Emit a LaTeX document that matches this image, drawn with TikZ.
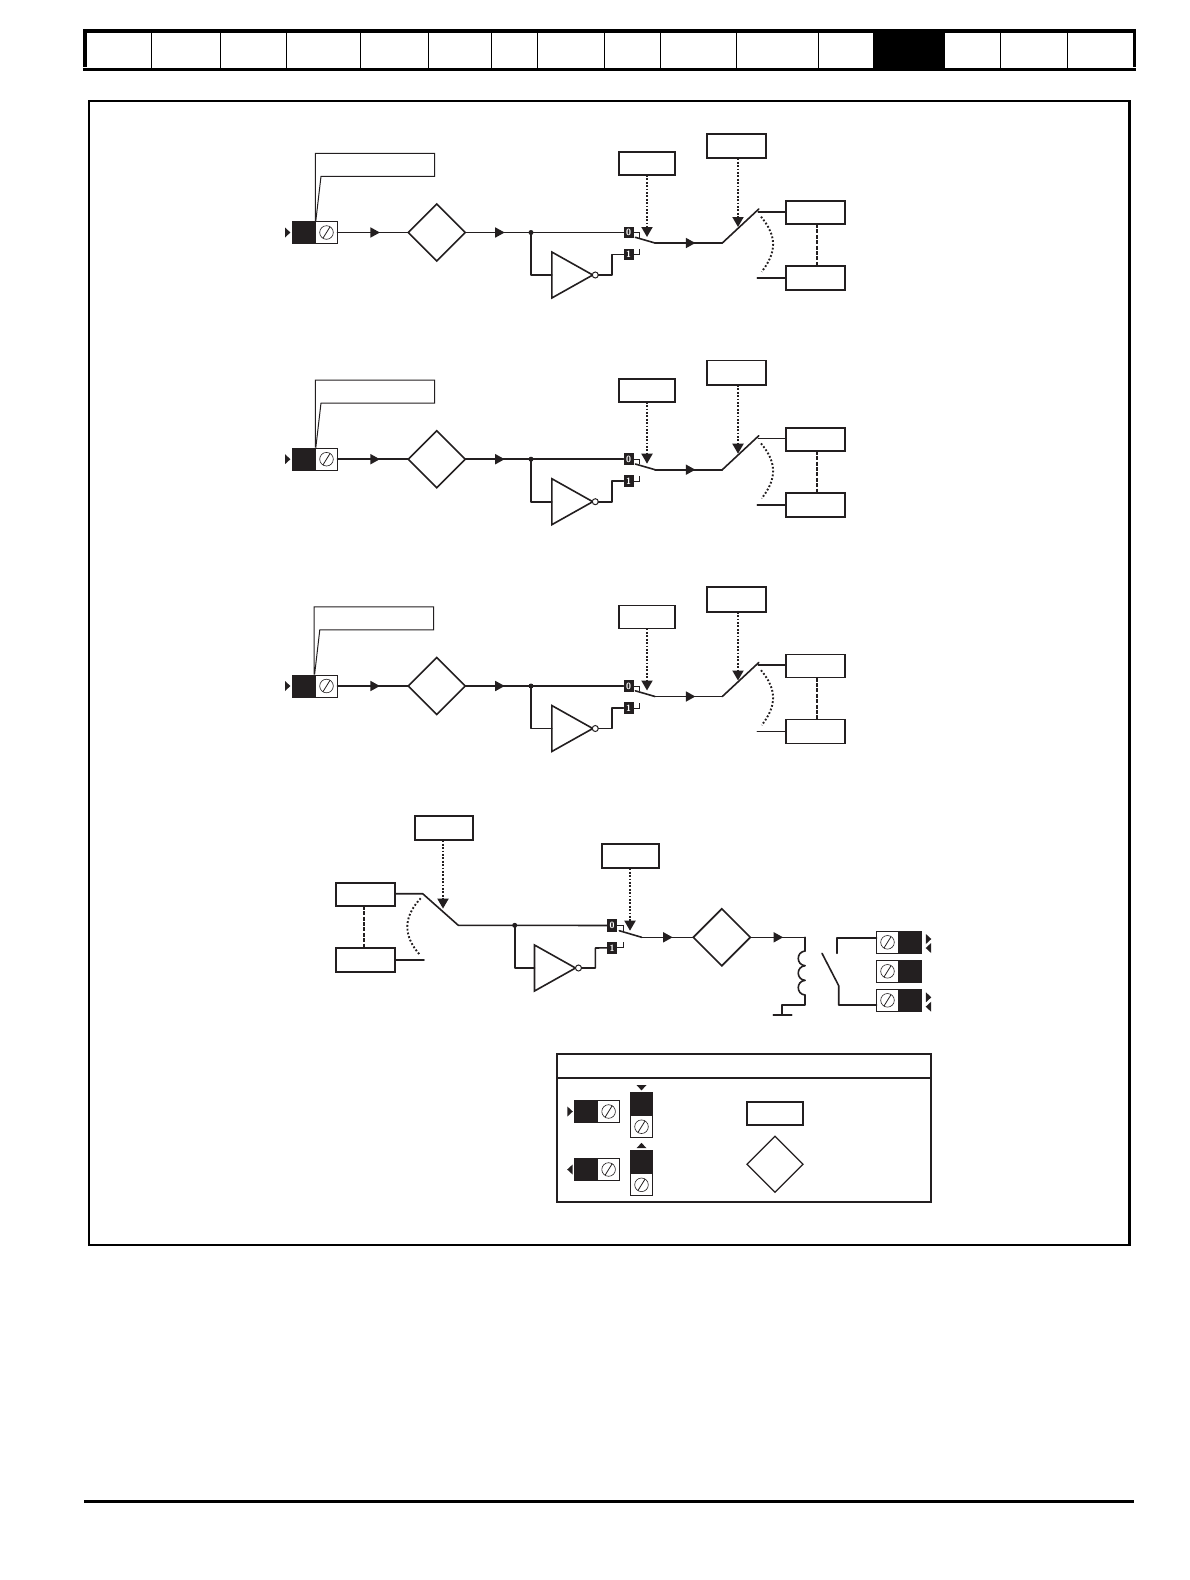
\documentclass[tikz,border=0pt]{standalone}
\usetikzlibrary{arrows.meta,decorations.markings,shapes.geometric}
\definecolor{ink}{HTML}{231F20}
\tikzset{
  every node/.style={inner sep=0pt,outer sep=0pt},
  wire/.style={draw=ink,line width=1.6pt,line cap=round,line join=round},
  thinwire/.style={draw=ink,line width=1pt},
  midarr/.style={postaction={decorate},decoration={markings,mark=at position .6 with {\arrow{Triangle[length=9.5pt,width=10pt]}}}},
  dotwire/.style={draw=ink,line width=1.9pt,dash pattern=on 1.8pt off 1.6pt,-{Triangle[length=10pt,width=11pt]},ink},
  dashwire/.style={draw=ink,line width=1.6pt,dash pattern=on 4pt off 1.4pt},
  arcwire/.style={draw=ink,line width=1.9pt,dash pattern=on 1.8pt off 2pt},
  parbox/.style={draw=ink,line width=1.7pt,fill=white,minimum width=58pt,minimum height=23pt},
  logicbox/.style={diamond,aspect=1,draw=ink,line width=1.6pt,fill=white,minimum size=57pt},
  invbody/.style={isosceles triangle,isosceles triangle apex angle=60,isosceles triangle stretches,shape border rotate=0,draw=ink,line width=1.6pt,fill=white,minimum height=41pt,minimum width=46pt},
  invbub/.style={circle,draw=ink,line width=1pt,fill=white,minimum size=6pt},
  blackterm/.style={fill=ink,draw=ink,line width=.8pt,minimum width=22.6pt,minimum height=22pt},
  screwterm/.style={draw=ink,line width=.9pt,fill=white,minimum width=22pt,minimum height=22pt,
    path picture={\draw[ink,line width=.6pt] (path picture bounding box.center) circle (6.8pt);
      \draw[ink,line width=.8pt] ([xshift=-3.6pt,yshift=-5.8pt]path picture bounding box.center) -- ([xshift=3.6pt,yshift=5.8pt]path picture bounding box.center);}},
  selmark/.style={fill=ink,text=white,font=\fontsize{9}{9}\sffamily\bfseries,minimum width=10.4pt,minimum height=11.6pt},
  jdot/.style={circle,fill=ink,minimum size=5pt},
  pagebar/.style={draw=black,line width=3.4pt},
  cellbar/.style={draw=black,line width=1pt}
}
\newcommand{\tipmark}[2]{\fill[ink,shift={#1},rotate=#2] (-2.6,-5) -- (2.8,0) -- (-2.6,5) -- cycle;}
\begin{document}
\begin{tikzpicture}[x=1pt,y=-1pt]
\useasboundingbox (0,0) rectangle (1190,1580);
% page tabs
\fill[black] (873,31) rectangle (945,69);
\foreach \tabx in {151.7,220.3,286.7,360.7,428.7,491.7,537.3,604.3,660.3,736.3,818.3,1000.7,1067.7}
  \draw[cellbar] (\tabx,31) -- (\tabx,69);
\draw[pagebar] (84.8,67) -- (84.8,31) -- (1134.2,31) -- (1134.2,67);
\draw[pagebar] (83,69.2) -- (1136,69.2);
\draw[pagebar] (84,1501.3) -- (1134,1501.3);
% outer frame
\draw[black,line width=2pt] (89,101) -- (1129.7,101);
\draw[black,line width=2pt] (89,100) -- (89,1244.7) -- (1129.7,1244.7);
\draw[black,line width=3pt] (1129.7,100) -- (1129.7,1245.7);
% the three input channels
\foreach \row/\dy/\cx in {a/0/0,b/226.7/0,c/453.5/-1.2}{
\begin{scope}[yshift=-\dy pt]
  \draw[thinwire,xshift=\cx pt] (315.3,221) -- (315.3,153.3) -- (434.7,153.3) -- (434.7,176.3) -- (321,176.3) -- (315.8,221);
  \node[blackterm] (\row term) at (303.6,232.5) {};
  \node[screwterm] (\row screw) at (326.5,232.5) {};
  \tipmark{(287.6,232.5)}{0}
  \node[logicbox] (\row logic) at (436.7,232.5) {};
  \node[jdot] (\row dot) at (531,232.5) {};
  \node[selmark] (\row lab0) at (628.7,232.5) {0};
  \node[selmark] (\row lab1) at (628.7,254.5) {1};
  \node[invbody,anchor=apex] (\row inv) at (592.8,275) {};
  \node[invbub] (\row bub) at (595.3,275) {};
  \coordinate (\row turn) at (611.7,254.5);
  \coordinate (\row hook0) at (639.3,237.6);
  \coordinate (\row hook1) at (639.3,249);
  \coordinate (\row bladeA) at (635.3,237.3);
  \coordinate (\row pivot) at (655,243);
  \coordinate (\row knee) at (722.3,243);
  \coordinate (\row end) at (758.8,209);
  \coordinate (\row wireA) at (758.3,211.7);
  \coordinate (\row stub) at (757.3,277);
  \coordinate (\row tipa) at (647,237);
  \coordinate (\row tipb) at (738,227);
  \coordinate (\row dash) at (817,240);
  \node[parbox,minimum width=56.6pt] (\row sela) at (647,163.5) {};
  \node[parbox,minimum width=59.6pt,minimum height=24.6pt] (\row selb) at (736.5,146) {};
  \node[parbox,minimum width=59.6pt] (\row outa) at (815.5,212.5) {};
  \node[parbox,minimum width=59.6pt,minimum height=24pt] (\row outb) at (815.5,278) {};
  \draw[wire,midarr] (\row screw.east) -- (\row logic.west);
  \draw[wire,midarr] (\row logic.east) -- (\row dot.center);
  \draw[wire] (\row dot.center) -- (\row lab0.west);
  \draw[wire] (\row dot.center) |- (\row inv.west);
  \draw[wire] (\row bub.east) -- (\row turn |- \row bub.east) -- (\row turn) -- (\row lab1.west);
  \draw[thinwire] (\row lab0.east) -| (\row hook0);
  \draw[thinwire] (\row lab1.east) -| (\row hook1);
  \draw[wire] (\row bladeA) -- (\row pivot);
  \draw[wire,midarr] (\row pivot) -- (\row knee);
  \draw[wire] (\row knee) -- (\row end);
  \draw[wire] (\row wireA) -- (\row outa.west |- \row wireA);
  \draw[wire] (\row outb.west -| \row stub) -- (\row outb.west);
  \draw[dotwire] (\row sela.south) -- (\row tipa);
  \draw[dotwire] (\row tipb |- \row selb.south) -- (\row tipb);
  \draw[dashwire] (\row dash |- \row outa.south) -- (\row dash |- \row outb.north);
  \draw[arcwire] (761,216.7) .. controls (777,236) and (777,252) .. (761.7,271.7);
\end{scope}}
% relay output channel
\node[parbox,minimum width=58.6pt,minimum height=24.6pt] (dsela) at (444,828) {};
\node[parbox,minimum width=57.6pt,minimum height=24pt] (dselb) at (630.5,856.3) {};
\node[parbox,minimum width=59.6pt] (douta) at (365.5,894.3) {};
\node[parbox,minimum width=59.6pt,minimum height=24.3pt] (doutb) at (365.5,959.8) {};
\node[jdot] (ddot) at (514.7,925.3) {};
\node[selmark,minimum width=9.4pt,minimum height=12.2pt] (dlab0) at (612,925.5) {0};
\node[selmark,minimum width=9.4pt,minimum height=12.2pt] (dlab1) at (612,947.8) {1};
\node[invbody,anchor=apex] (dinv) at (575.5,968) {};
\node[invbub] (dbub) at (578.5,968) {};
\node[logicbox] (dlogic) at (721.8,937.3) {};
\coordinate (dend) at (422.7,893.7);
\coordinate (dknee) at (458.3,925.3);
\coordinate (dstub) at (424,959.8);
\coordinate (dturn) at (595.3,948);
\coordinate (dhook0) at (623,931);
\coordinate (dhook1) at (623,942);
\coordinate (dbladeA) at (619.3,930.7);
\coordinate (dpivot) at (641.7,937.3);
\coordinate (dtipa) at (443,908.6);
\coordinate (dtipb) at (630,930.7);
\coordinate (coiltop) at (805,937.3);
\coordinate (coilbot) at (805,1005);
\coordinate (gnd) at (781.7,1015);
\draw[wire] (douta.east |- dend) -- (dend) -- (dknee) -- (ddot.center);
\draw[wire] (doutb.east) -- (dstub);
\draw[wire] (ddot.center) -- (dlab0.west);
\draw[wire] (ddot.center) |- (dinv.west);
\draw[wire] (dbub.east) -- (dturn |- dbub.east) -- (dturn) -- (dlab1.west);
\draw[thinwire] (dlab0.east) -| (dhook0);
\draw[thinwire] (dlab1.east) -| (dhook1);
\draw[wire] (dbladeA) -- (dpivot);
\draw[wire,midarr] (dpivot) -- (dlogic.west);
\draw[wire,midarr] (dlogic.east) -- (coiltop);
\draw[dotwire] (dsela.south -| dtipa) -- (dtipa);
\draw[dotwire] (dselb.south -| dtipb) -- (dtipb);
\draw[dashwire] ([xshift=-1.5pt]douta.south) -- ([xshift=-1.5pt]doutb.north);
\draw[arcwire] (420.7,898.3) .. controls (403,917) and (403,936) .. (420,955);
% relay coil and contact
\draw[wire] (coiltop) -- (805,951);
\foreach \yk in {951,965.7,980.3}
  \draw[wire] (805,\yk) .. controls (796,\yk+1) and (796,\yk+13.7) .. (805,\yk+14.7);
\draw[wire] (805,995) -- (coilbot) -| (gnd);
\draw[wire] (773.3,1015) -- (791.7,1015);
\node[screwterm] (rs1) at (887.5,942.3) {};
\node[blackterm] (rb1) at (910,942.3) {};
\node[screwterm] (rs2) at (887.5,971.3) {};
\node[blackterm] (rb2) at (910,971.3) {};
\node[screwterm] (rs3) at (887.5,1000.3) {};
\node[blackterm] (rb3) at (910,1000.3) {};
\tipmark{(928.5,939)}{0}
\tipmark{(928.5,948)}{180}
\tipmark{(928.5,997.3)}{0}
\tipmark{(928.5,1006.7)}{180}
\coordinate (cona) at (837,937.7);
\coordinate (conb) at (838.7,1005);
\draw[wire] (837,953.3) -- (cona) -- (rs1.west |- cona);
\draw[wire] (822,953.3) -- (838.7,985.7) -- (conb) -- (rs3.west |- conb);
% key
\draw[ink,line width=1.8pt] (556.7,1054) rectangle (931,1201.7);
\draw[ink,line width=1.8pt] (556.7,1078) -- (931,1078);
\node[blackterm] (keyb1) at (586,1111.5) {};
\node[screwterm] (keys1) at (608.6,1111.5) {};
\node[blackterm] (keyb2) at (586,1169.5) {};
\node[screwterm] (keys2) at (608.6,1169.5) {};
\tipmark{(570,1111.5)}{0}
\tipmark{(570,1169.5)}{180}
\node[blackterm,minimum width=21.5pt,minimum height=23.4pt] (keyb3) at (641.5,1103.8) {};
\node[screwterm] (keys3) at (641.5,1126.7) {};
\node[blackterm,minimum width=21.5pt,minimum height=23.4pt] (keyb4) at (641.5,1162) {};
\node[screwterm] (keys4) at (641.5,1184.8) {};
\tipmark{(641.5,1087.6)}{-90}
\tipmark{(641.5,1145.6)}{90}
\node[parbox,minimum width=56.6pt] (keypar) at (775,1113.8) {};
\node[logicbox,line width=1.3pt,minimum size=56pt] (keylogic) at (775,1164.3) {};
\end{tikzpicture}
\end{document}
